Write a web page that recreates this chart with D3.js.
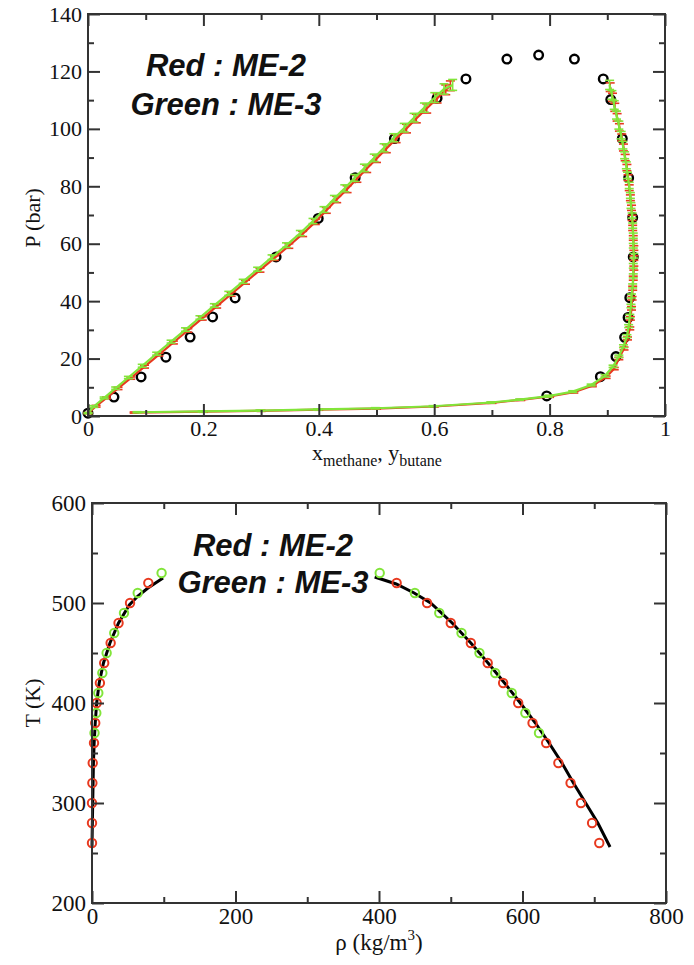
<!DOCTYPE html>
<html>
<head>
<meta charset="utf-8">
<script src="https://cdn.jsdelivr.net/npm/d3@7"></script>
<style>
  body { margin: 0; background: #fff; }
  svg text { fill: #111; }
</style>
</head>
<body>
<svg id="chart" width="694" height="965"></svg>
<script>
// ---------- Top panel: P–x–y phase envelope, methane / butane ----------
// experimental points [x or y, P (bar)]
const expPoints = [
  [0.000, 1.0], [0.045, 6.6], [0.092, 13.6], [0.135, 20.5], [0.177, 27.5],
  [0.216, 34.5], [0.255, 41.1], [0.326, 55.4], [0.399, 68.8], [0.463, 83.0],
  [0.531, 96.6], [0.605, 110.7], [0.655, 117.4], [0.726, 124.3], [0.781, 125.7],
  [0.843, 124.3], [0.893, 117.4], [0.906, 110.2], [0.926, 96.6], [0.937, 82.9],
  [0.944, 69.1], [0.945, 55.4], [0.939, 41.2], [0.936, 34.3], [0.930, 27.4],
  [0.915, 20.7], [0.888, 13.7], [0.795, 7.0]
];

// ME-2 simulation [x, P, error in P]
const me2Bubble = [
  [0.000, 1.0, 0.2], [0.014, 3.4, 0.3], [0.032, 6.3, 0.3], [0.052, 9.6, 0.4],
  [0.074, 13.2, 0.4], [0.098, 17.2, 0.5], [0.123, 21.4, 0.5], [0.148, 25.6, 0.5],
  [0.173, 29.8, 0.6], [0.198, 34.0, 0.6], [0.223, 38.2, 0.6], [0.248, 42.4, 0.7],
  [0.273, 46.6, 0.7], [0.298, 50.8, 0.7], [0.323, 55.0, 0.8], [0.348, 59.2, 0.8],
  [0.372, 63.4, 0.9], [0.394, 67.6, 0.9], [0.413, 71.6, 1.0], [0.431, 75.4, 1.1],
  [0.449, 79.0, 1.2], [0.466, 82.6, 1.2], [0.483, 86.1, 1.3], [0.500, 89.6, 1.3],
  [0.517, 93.1, 1.4], [0.534, 96.6, 1.4], [0.552, 100.1, 1.5], [0.569, 103.6, 1.5],
  [0.587, 107.1, 1.6], [0.605, 110.6, 1.6], [0.620, 113.6, 1.7], [0.628, 115.0, 1.7]
];
const me2Dew = [
  [0.905, 114.5, 1.5], [0.909, 111.0, 1.4], [0.913, 107.5, 1.4], [0.917, 104.0, 1.3],
  [0.921, 100.5, 1.3], [0.925, 97.0, 1.2], [0.928, 93.5, 1.2], [0.931, 90.0, 1.1],
  [0.934, 86.5, 1.1], [0.936, 83.0, 1.0], [0.938, 79.5, 1.0], [0.940, 76.0, 1.0],
  [0.942, 72.5, 0.9], [0.943, 69.0, 0.9], [0.944, 65.5, 0.9], [0.945, 62.0, 0.8],
  [0.946, 58.5, 0.8], [0.946, 55.0, 0.8], [0.946, 51.5, 0.7], [0.945, 48.0, 0.7],
  [0.944, 44.5, 0.7], [0.943, 41.0, 0.6], [0.942, 37.5, 0.6], [0.940, 34.0, 0.6],
  [0.939, 30.5, 0.5], [0.935, 27.0, 0.5], [0.929, 23.5, 0.5], [0.920, 20.0, 0.4],
  [0.912, 16.5, 0.4], [0.898, 13.5, 0.4], [0.874, 10.5, 0.3], [0.842, 8.3, 0.3],
  [0.800, 6.8, 0.3], [0.750, 5.6, 0.2], [0.700, 4.6, 0.2], [0.600, 3.3, 0.2],
  [0.500, 2.6, 0.2], [0.400, 2.2, 0.2], [0.300, 1.8, 0.2], [0.200, 1.5, 0.2],
  [0.080, 1.2, 0.2]
];

// ME-3 simulation [x, P, error in P]
const me3Bubble = [
  [0.000, 1.0, 0.2], [0.010, 3.3, 0.3], [0.028, 6.3, 0.3], [0.048, 9.7, 0.4],
  [0.070, 13.4, 0.4], [0.094, 17.5, 0.5], [0.119, 21.7, 0.5], [0.144, 25.9, 0.5],
  [0.169, 30.1, 0.6], [0.194, 34.3, 0.6], [0.219, 38.5, 0.6], [0.244, 42.7, 0.7],
  [0.269, 46.9, 0.7], [0.294, 51.1, 0.7], [0.319, 55.3, 0.8], [0.344, 59.5, 0.8],
  [0.368, 63.7, 0.9], [0.390, 67.9, 0.9], [0.409, 71.9, 1.0], [0.427, 75.7, 1.1],
  [0.445, 79.3, 1.2], [0.462, 82.9, 1.2], [0.479, 86.4, 1.3], [0.496, 89.9, 1.3],
  [0.513, 93.4, 1.4], [0.530, 96.9, 1.4], [0.548, 100.4, 1.5], [0.565, 103.9, 1.5],
  [0.583, 107.4, 1.6], [0.601, 110.9, 1.7], [0.617, 113.9, 1.8], [0.632, 115.3, 1.9]
];
const me3Dew = [
  [0.904, 115.3, 1.6], [0.908, 111.8, 1.5], [0.912, 108.3, 1.5], [0.916, 104.8, 1.4],
  [0.920, 101.3, 1.4], [0.924, 97.8, 1.3], [0.927, 94.3, 1.3], [0.930, 90.8, 1.2],
  [0.933, 87.3, 1.2], [0.935, 83.8, 1.1], [0.938, 80.3, 1.1], [0.940, 76.8, 1.0],
  [0.941, 73.3, 1.0], [0.943, 69.8, 0.9], [0.944, 66.3, 0.9], [0.945, 62.8, 0.9],
  [0.945, 59.3, 0.8], [0.946, 55.8, 0.8], [0.945, 52.3, 0.8], [0.945, 48.8, 0.7],
  [0.944, 45.3, 0.7], [0.942, 41.8, 0.7], [0.941, 38.3, 0.6], [0.939, 34.8, 0.6],
  [0.937, 31.3, 0.5], [0.934, 27.8, 0.5], [0.928, 24.3, 0.5], [0.920, 20.8, 0.4],
  [0.910, 17.3, 0.4], [0.896, 14.0, 0.4], [0.872, 10.8, 0.3], [0.840, 8.5, 0.3],
  [0.798, 6.9, 0.3], [0.748, 5.7, 0.2], [0.698, 4.7, 0.2], [0.598, 3.4, 0.2],
  [0.498, 2.7, 0.2], [0.398, 2.3, 0.2], [0.298, 1.9, 0.2], [0.198, 1.6, 0.2],
  [0.085, 1.3, 0.2]
];

const topXTicks = [0, 0.2, 0.4, 0.6, 0.8, 1];
const topXMinor = [0.1, 0.3, 0.5, 0.7, 0.9];
const topYTicks = [0, 20, 40, 60, 80, 100, 120, 140];
const topYMinor = [10, 30, 50, 70, 90, 110, 130];

// ---------- Bottom panel: T–rho coexistence curve ----------
// reference curve [rho (kg/m3), T (K)]
const refVapor = [
  [0, 256], [0.5, 280], [1, 300], [1.5, 320], [2, 340], [3, 360], [4.5, 380],
  [6.5, 400], [10, 420], [16, 440], [25, 460], [37, 480], [52, 498], [64, 507],
  [78, 515], [99, 525]
];
const refLiquid = [
  [394, 526], [424, 519], [449, 510], [472, 500], [502, 480], [528, 460],
  [552, 440], [575, 420], [597, 400], [618, 380], [637, 360], [655, 340],
  [671, 320], [688, 300], [705, 280], [722, 256]
];
// ME-2 simulated densities [rho, T]
const me2Coex = [
  [0, 260], [0, 280], [0, 300], [0.5, 320], [1, 340], [2.8, 360], [4.5, 380],
  [6.5, 400], [11, 420], [17, 440], [26, 460], [37, 480], [53, 500], [78.5, 520],
  [424.6, 520], [467, 500], [500, 480], [528, 460], [551.5, 440], [573, 420],
  [594, 400], [614, 380], [633, 360], [650, 340], [667, 320], [681.5, 300],
  [697, 280], [707, 260]
];
// ME-3 simulated densities [rho, T]
const me3Coex = [
  [3.5, 370], [6, 390], [8.8, 410], [14.4, 430], [20.4, 450], [31, 470],
  [44.6, 490], [63.7, 510], [97, 530],
  [401, 530], [450, 510], [484, 490], [515, 470], [540, 450], [562, 430],
  [585, 410], [604, 390], [623, 370]
];

const botXTicks = [0, 200, 400, 600, 800];
const botXMinor = [100, 300, 500, 700];
const botYTicks = [200, 300, 400, 500, 600];
const botYMinor = [250, 350, 450, 550];

const legendLines = ["Red : ME-2", "Green : ME-3"];

// ---------- drawing ----------
const RED = "#e8391f";
const GREEN = "#82e53a";
const AXIS = "#333";
const SERIF = "'Liberation Serif', 'Times New Roman', serif";
const SANS = "'Liberation Sans', Arial, sans-serif";

const svg = d3.select("#chart");

function frame(g, x, y, xt, xm, yt, ym, fx, fy, fs, xPad) {
  const [x0, x1] = x.range();
  const [y0, y1] = y.range();
  const add = (axis, tx, ty) => {
    const a = g.append("g").attr("transform", `translate(${tx},${ty})`).call(axis);
    a.select(".domain").remove();
    a.selectAll("line").attr("stroke", AXIS).attr("stroke-width", 2);
    a.selectAll("text").attr("font-family", SERIF).attr("font-size", fs).attr("fill", "#111");
    return a;
  };
  add(d3.axisBottom(x).tickValues(xt).tickSize(-12).tickSizeOuter(0).tickPadding(xPad).tickFormat(fx), 0, y0);
  add(d3.axisBottom(x).tickValues(xm).tickSize(-6).tickFormat(""), 0, y0);
  add(d3.axisTop(x).tickValues(xt).tickSize(-12).tickFormat(""), 0, y1);
  add(d3.axisTop(x).tickValues(xm).tickSize(-6).tickFormat(""), 0, y1);
  add(d3.axisLeft(y).tickValues(yt).tickSize(-12).tickPadding(6).tickFormat(fy), x0, 0);
  add(d3.axisLeft(y).tickValues(ym).tickSize(-6).tickFormat(""), x0, 0);
  add(d3.axisRight(y).tickValues(yt).tickSize(-12).tickFormat(""), x1, 0);
  add(d3.axisRight(y).tickValues(ym).tickSize(-6).tickFormat(""), x1, 0);
  g.append("rect")
    .attr("x", x0).attr("y", y1).attr("width", x1 - x0).attr("height", y0 - y1)
    .attr("fill", "none").attr("stroke", AXIS).attr("stroke-width", 2);
}

function legend(g, cx, y0, gap) {
  g.append("g").selectAll("text").data(legendLines).join("text")
    .attr("x", cx).attr("y", (d, i) => y0 + i * gap)
    .attr("text-anchor", "middle")
    .attr("font-family", SANS).attr("font-size", 31)
    .attr("font-weight", "bold").attr("font-style", "italic")
    .attr("fill", "#000")
    .text(d => d);
}

// ----- top panel -----
const xT = d3.scaleLinear().domain([0, 1]).range([88, 665]);
const yT = d3.scaleLinear().domain([0, 140]).range([416, 14]);
const gT = svg.append("g");

const lineT = d3.line().x(d => xT(d[0])).y(d => yT(d[1]));

function simSeries(data, color) {
  const s = gT.append("g");
  s.append("path").datum(data).attr("d", lineT)
    .attr("fill", "none").attr("stroke", color).attr("stroke-width", 2.2);
  const bars = s.selectAll("g.eb").data(data).join("g").attr("class", "eb")
    .attr("stroke", color).attr("stroke-width", 1.6);
  bars.append("line")
    .attr("x1", d => xT(d[0])).attr("x2", d => xT(d[0]))
    .attr("y1", d => yT(d[1] - d[2])).attr("y2", d => yT(d[1] + d[2]));
  [-1, 1].forEach(sg => {
    bars.append("line")
      .attr("x1", d => xT(d[0]) - 4.5).attr("x2", d => xT(d[0]) + 4.5)
      .attr("y1", d => yT(d[1] + sg * d[2])).attr("y2", d => yT(d[1] + sg * d[2]));
  });
}

gT.append("g").selectAll("circle").data(expPoints).join("circle")
  .attr("cx", d => xT(d[0])).attr("cy", d => yT(d[1])).attr("r", 4.3)
  .attr("fill", "none").attr("stroke", "#000").attr("stroke-width", 2.4);

simSeries(me2Bubble, RED);
simSeries(me2Dew, RED);
simSeries(me3Bubble, GREEN);
simSeries(me3Dew, GREEN);

frame(gT, xT, yT, topXTicks, topXMinor, topYTicks, topYMinor,
  d => (d === 0 || d === 1) ? String(d) : d.toFixed(1), d => String(d), 22, 4);

gT.append("text")
  .attr("transform", "translate(40,218) rotate(-90)")
  .attr("text-anchor", "middle")
  .attr("font-family", SERIF).attr("font-size", 22)
  .text("P (bar)");

const xl = gT.append("text")
  .attr("x", 377).attr("y", 460)
  .attr("text-anchor", "middle")
  .attr("font-family", SERIF).attr("font-size", 22);
xl.append("tspan").text("x");
xl.append("tspan").attr("font-size", 16).attr("dy", 6).text("methane");
xl.append("tspan").attr("dy", -6).text(", y");
xl.append("tspan").attr("font-size", 16).attr("dy", 6).text("butane");

legend(gT, 226, 76, 39);

// ----- bottom panel -----
const xB = d3.scaleLinear().domain([0, 800]).range([92, 666]);
const yB = d3.scaleLinear().domain([200, 600]).range([903, 503]);
const gB = svg.append("g");
const lineB = d3.line().x(d => xB(d[0])).y(d => yB(d[1]));

[refVapor, refLiquid].forEach(branch => {
  gB.append("path").datum(branch).attr("d", lineB)
    .attr("fill", "none").attr("stroke", "#000").attr("stroke-width", 3);
});

[[me2Coex, RED], [me3Coex, GREEN]].forEach(([data, color]) => {
  gB.append("g").selectAll("circle").data(data).join("circle")
    .attr("cx", d => xB(d[0])).attr("cy", d => yB(d[1])).attr("r", 4.2)
    .attr("fill", "none").attr("stroke", color).attr("stroke-width", 2);
});

frame(gB, xB, yB, botXTicks, botXMinor, botYTicks, botYMinor,
  d => String(d), d => String(d), 23, 5);

gB.append("text")
  .attr("transform", "translate(40,703) rotate(-90)")
  .attr("text-anchor", "middle")
  .attr("font-family", SERIF).attr("font-size", 22)
  .text("T (K)");

const rl = gB.append("text")
  .attr("x", 379).attr("y", 950)
  .attr("text-anchor", "middle")
  .attr("font-family", SERIF).attr("font-size", 23);
rl.append("tspan").text("ρ (kg/m");
rl.append("tspan").attr("font-size", 15).attr("dy", -10).text("3");
rl.append("tspan").attr("dy", 10).text(")");

legend(gB, 273, 556, 37);
</script>
</body>
</html>
